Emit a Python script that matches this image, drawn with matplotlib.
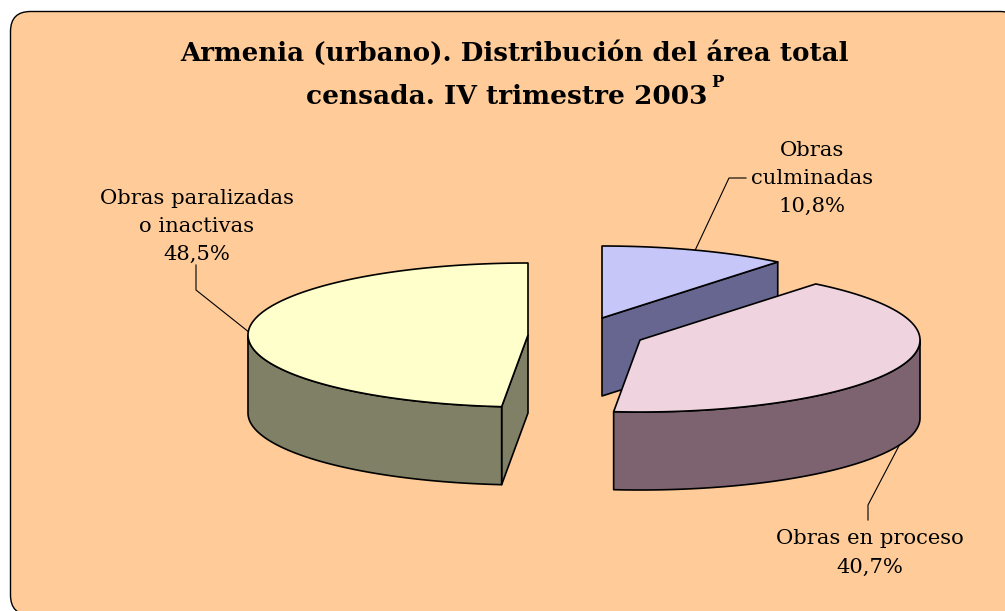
import numpy as np
import matplotlib
matplotlib.use('Agg')
import matplotlib.pyplot as plt
from matplotlib.patches import FancyBboxPatch, Polygon

# Data
labels = ['Obras\nculminadas\n10,8%', 'Obras en proceso\n40,7%', 'Obras paralizadas\no inactivas\n48,5%']
values = [10.8, 40.7, 48.5]
title_lines = ['Armenia (urbano). Distribución del área total', 'censada. IV trimestre 2003']

# Styles, one per slice (in pixel space)
top_colors = ['#C6C6F8', '#EFD3DF', '#FFFFCC']
side_colors = ['#666690', '#7D6270', '#808066']
centers = [(602, 318), (640, 340), (528, 335)]
label_pos = [(812, 178), (870, 553), (197, 226)]
elbows = [[(729, 178), (746, 178)], [(868, 505), (868, 520)], [(196, 290), (196, 265)]]

RX, RY, DEPTH = 280, 72, 78
LW = 1.2


def rim(cx, cy, t1, t2):
    t = np.radians(np.linspace(t1, t2, 200))
    return np.column_stack([cx + RX * np.sin(t), cy - RY * np.cos(t)])


def edge(theta, cx, cy):
    t = np.radians(theta)
    return cx + RX * np.sin(t), cy - RY * np.cos(t)


fig = plt.figure(figsize=(10.05, 6.11), dpi=100, facecolor='white')
ax = fig.add_axes([0, 0, 1, 1])
ax.set_xlim(0, 1005)
ax.set_ylim(611, 0)
ax.axis('off')

ax.add_patch(FancyBboxPatch((10.5, 11.5), 1009.5, 603.5, boxstyle='round,pad=0,rounding_size=20',
                            fc='#FFCC99', ec='black', lw=1.0))

angles = np.concatenate([[0], np.cumsum(values) * 3.6])
for i in range(len(values)):
    t1, t2 = angles[i], angles[i + 1]
    cx, cy = centers[i]
    kw = dict(fc=side_colors[i], ec='black', lw=LW, joinstyle='round')

    # side walls that face the viewer
    if np.sin(np.radians(t2)) > 1e-6:
        x, y = edge(t2, cx, cy)
        ax.add_patch(Polygon([(cx, cy), (x, y), (x, y + DEPTH), (cx, cy + DEPTH)], **kw))
    if -np.sin(np.radians(t1)) > 1e-6:
        x, y = edge(t1, cx, cy)
        ax.add_patch(Polygon([(cx, cy), (x, y), (x, y + DEPTH), (cx, cy + DEPTH)], **kw))

    # outer wall, front half only
    a, b = max(t1, 90), min(t2, 270)
    if b > a:
        r = rim(cx, cy, a, b)
        ax.add_patch(Polygon(np.vstack([r, (r + [0, DEPTH])[::-1]]), **kw))

    # top face
    ax.add_patch(Polygon(np.vstack([[(cx, cy)], rim(cx, cy, t1, t2)]),
                         fc=top_colors[i], ec='black', lw=LW, joinstyle='round'))

    # leader line from the middle of the slice
    mid = (t1 + t2) / 2
    x, y = edge(mid, cx, cy)
    if 90 < mid < 270:
        y += DEPTH
    pts = [(x, y)] + elbows[i]
    ax.plot(*zip(*pts), color='black', lw=0.8)

    ax.text(*label_pos[i], labels[i], ha='center', va='center', family='DejaVu Serif',
            fontsize=15.2, color='black', linespacing=1.6)

ax.text(514, 61, title_lines[0], ha='center', va='baseline', family='DejaVu Serif',
        fontweight='bold', fontsize=18.8)
ax.text(708, 104, title_lines[1], ha='right', va='baseline', family='DejaVu Serif',
        fontweight='bold', fontsize=19)
ax.text(711, 87, 'P', ha='left', va='baseline', family='DejaVu Serif', fontweight='bold', fontsize=12)

fig.savefig('out.png', dpi=100)
